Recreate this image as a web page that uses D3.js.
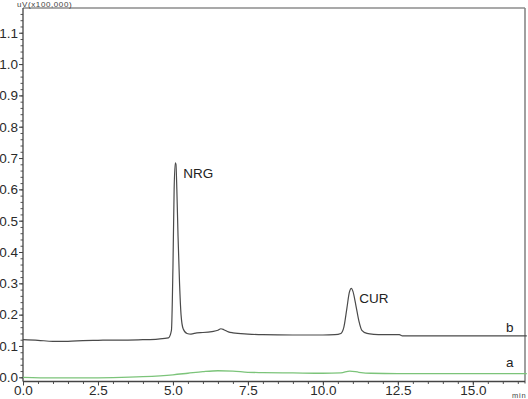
<!DOCTYPE html>
<html>
<head>
<meta charset="utf-8">
<script src="https://cdn.jsdelivr.net/npm/d3@7"></script>
<style>
  body { margin: 0; background: #fff; }
  svg { display: block; font-family: "Liberation Sans", Arial, sans-serif; }
</style>
</head>
<body>
<svg id="chart" width="528" height="399"></svg>
<script>
// chromatogram b (sample) - time in min, signal in uV x100,000
const timeB = [0, 0.5, 1.0, 1.5, 2.0, 2.5, 3.0, 3.5, 4.0, 4.5, 4.85, 4.95, 5.0, 5.04, 5.08, 5.1, 5.13, 5.17, 5.22, 5.27, 5.34, 5.47, 5.6, 5.8, 6.0, 6.3, 6.5, 6.6, 6.7, 6.85, 7.0, 7.5, 8.0, 9.0, 10.0, 10.4, 10.6, 10.7, 10.8, 10.88, 10.95, 11.0, 11.1, 11.2, 11.3, 11.47, 11.7, 12.0, 12.55, 12.65, 13, 14, 15, 16, 16.8];
const signalB = [0.12, 0.118, 0.115, 0.115, 0.117, 0.118, 0.119, 0.119, 0.12, 0.122, 0.126, 0.15, 0.35, 0.6, 0.685, 0.68, 0.6, 0.45, 0.3, 0.2, 0.155, 0.14, 0.138, 0.142, 0.143, 0.146, 0.15, 0.155, 0.152, 0.145, 0.142, 0.138, 0.136, 0.135, 0.135, 0.136, 0.14, 0.16, 0.22, 0.27, 0.284, 0.275, 0.23, 0.18, 0.15, 0.14, 0.137, 0.136, 0.136, 0.132, 0.132, 0.132, 0.132, 0.132, 0.132];

// chromatogram a (blank)
const timeA = [0, 1, 2, 3, 4, 5, 5.5, 6, 6.5, 7, 7.5, 8, 9, 10, 10.6, 10.9, 11.2, 11.6, 12.5, 14, 16, 16.8];
const signalA = [0.0, -0.002, -0.002, -0.001, 0.002, 0.008, 0.013, 0.018, 0.021, 0.02, 0.016, 0.015, 0.014, 0.013, 0.014, 0.02, 0.016, 0.013, 0.012, 0.012, 0.012, 0.012];

// peak labels
const peakNames = ["NRG", "CUR"];
const peakTimes = [5.08, 10.95];
const peakHeights = [0.685, 0.284];

const yTicks = d3.range(0, 1.11, 0.1);
const xTicks = [0, 2.5, 5, 7.5, 10, 12.5, 15];

const svg = d3.select("#chart"),
    width = +svg.attr("width"),
    height = +svg.attr("height");
const margin = {top: 8, right: 3, bottom: 17.5, left: 23};

const x = d3.scaleLinear().domain([0, 16.74]).range([margin.left, width - margin.right]);
const y = d3.scaleLinear().domain([-0.0134, 1.179]).range([height - margin.bottom, margin.top]);

// frame (top + right)
svg.append("line")
    .attr("x1", margin.left).attr("x2", width - margin.right)
    .attr("y1", margin.top).attr("y2", margin.top)
    .attr("stroke", "#555").attr("stroke-width", 1.2);
svg.append("line")
    .attr("x1", width - margin.right).attr("x2", width - margin.right)
    .attr("y1", margin.top).attr("y2", height - margin.bottom + 2)
    .attr("stroke", "#888").attr("stroke-width", 1.6);

// y axis with minor ticks
const yMinor = d3.range(0, 1.17, 0.02);
svg.append("g")
    .attr("transform", `translate(${margin.left},0)`)
    .call(d3.axisLeft(y).tickValues(yMinor).tickSize(2.5).tickFormat(""))
    .call(g => g.select(".domain").remove())
    .selectAll("line").attr("stroke", "#555");
const yAxis = svg.append("g")
    .attr("transform", `translate(${margin.left},0)`)
    .call(d3.axisLeft(y).tickValues(yTicks).tickSize(4).tickPadding(1).tickFormat(d3.format(".1f")));
yAxis.select(".domain").attr("d", `M0,${margin.top}V${height - margin.bottom}`).attr("stroke", "#444").attr("stroke-width", 1.3);
yAxis.selectAll("line").attr("stroke", "#444");
yAxis.selectAll("text").attr("fill", "#2a2a2a").style("font-size", "13.5px");

// x axis with minor ticks
const xMinor = d3.range(0, 16.6, 0.5);
svg.append("g")
    .attr("transform", `translate(0,${height - margin.bottom})`)
    .call(d3.axisBottom(x).tickValues(xMinor).tickSize(2.5).tickFormat(""))
    .call(g => g.select(".domain").remove())
    .selectAll("line").attr("stroke", "#555");
const xAxis = svg.append("g")
    .attr("transform", `translate(0,${height - margin.bottom})`)
    .call(d3.axisBottom(x).tickValues(xTicks).tickSize(4).tickPadding(0).tickFormat(d3.format(".1f")));
xAxis.select(".domain").attr("d", `M${margin.left},0H${width - margin.right}`).attr("stroke", "#444").attr("stroke-width", 1.3);
xAxis.selectAll("line").attr("stroke", "#444");
xAxis.selectAll("text").attr("fill", "#2a2a2a").style("font-size", "13.5px");

// unit labels
svg.append("text")
    .attr("x", 17).attr("y", 6.5)
    .attr("fill", "#444").style("font-size", "8px").style("letter-spacing", "0.6px")
    .text("uV(x100,000)");
svg.append("text")
    .attr("x", 512).attr("y", 398)
    .attr("fill", "#444").style("font-size", "7.5px").style("letter-spacing", "0.8px")
    .text("min");

// traces
const line = d3.line()
    .x(d => x(d[0]))
    .y(d => y(d[1]))
    .curve(d3.curveMonotoneX);

svg.append("path")
    .datum(d3.zip(timeA, signalA))
    .attr("d", line)
    .attr("fill", "none")
    .attr("stroke", "#7cc47a")
    .attr("stroke-width", 1.3);

svg.append("path")
    .datum(d3.zip(timeB, signalB))
    .attr("d", line)
    .attr("fill", "none")
    .attr("stroke", "#4a4a4a")
    .attr("stroke-width", 1.2);

// peak names
svg.selectAll(".peak")
    .data(peakNames)
    .enter()
    .append("text")
    .attr("class", "peak")
    .attr("x", (d, i) => x(peakTimes[i]) + 8)
    .attr("y", (d, i) => y(peakHeights[i]) + 15)
    .attr("fill", "#222")
    .style("font-size", "13.5px")
    .text(d => d);

// trace letters
svg.append("text")
    .attr("x", 506).attr("y", 332)
    .attr("fill", "#222").style("font-size", "13.5px")
    .text("b");
svg.append("text")
    .attr("x", 506).attr("y", 367)
    .attr("fill", "#222").style("font-size", "13.5px")
    .text("a");
</script>
</body>
</html>
